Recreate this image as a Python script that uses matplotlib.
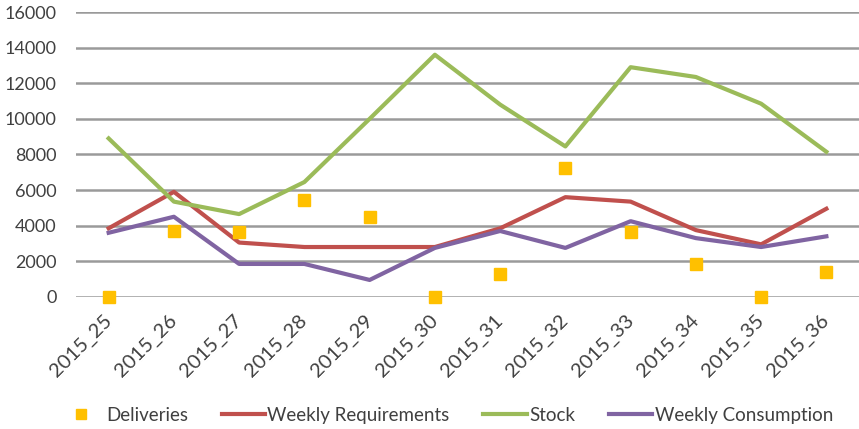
import numpy as np
import matplotlib.pyplot as plt

plt.rcParams['font.family'] = ['Lato', 'DejaVu Sans']

weeks = ['2015_25', '2015_26', '2015_27', '2015_28', '2015_29', '2015_30',
         '2015_31', '2015_32', '2015_33', '2015_34', '2015_35', '2015_36']
deliveries = [0, 3700, 3650, 5450, 4500, 0, 1300, 7250, 3650, 1850, 0, 1400]
requirements = [3850, 5900, 3050, 2800, 2800, 2800, 3850, 5600, 5350, 3750, 2950, 4950]
stock = [8900, 5350, 4650, 6450, 10000, 13600, 10800, 8450, 12900, 12350, 10850, 8150]
consumption = [3600, 4500, 1850, 1850, 950, 2750, 3700, 2750, 4250, 3300, 2800, 3400]

fig = plt.figure(figsize=(8.59, 4.29), dpi=100)
ax = fig.add_axes([0.0885, 0.308, 0.9115, 0.664])

x = np.arange(len(weeks))
ax.plot(x, deliveries, 's', color='#FFC000', markersize=8, label='Deliveries',
        zorder=4, clip_on=False)
ax.plot(x, requirements, color='#C0504D', lw=3, label='Weekly Requirements', zorder=3)
ax.plot(x, stock, color='#9BBB59', lw=3, label='Stock', zorder=3)
ax.plot(x, consumption, color='#8064A2', lw=3, label='Weekly Consumption', zorder=3)

ax.set_xlim(-0.5, len(weeks) - 0.5)
ax.set_ylim(0, 16000)
ax.set_yticks(np.arange(0, 16001, 2000))
ax.yaxis.grid(True, color='#9a9a9a', lw=1.8)
ax.set_axisbelow(True)
for s in ax.spines.values():
    s.set_visible(False)
ax.tick_params(length=0, colors='#404040')
ax.tick_params(axis='y', pad=14, labelsize=13)
ax.tick_params(axis='x', pad=15, labelsize=14.5)
ax.set_xticks(x)
ax.set_xticklabels(weeks, rotation=45, ha='right', va='center', rotation_mode='anchor')

fig.legend(loc='center', bbox_to_anchor=(0.52, 0.032), ncol=4, frameon=False,
           fontsize=13.5, handlelength=2.3, columnspacing=1.8, handletextpad=0.15,
           labelcolor='#404040', markerscale=0.95)

fig.savefig('out.png', dpi=100)
